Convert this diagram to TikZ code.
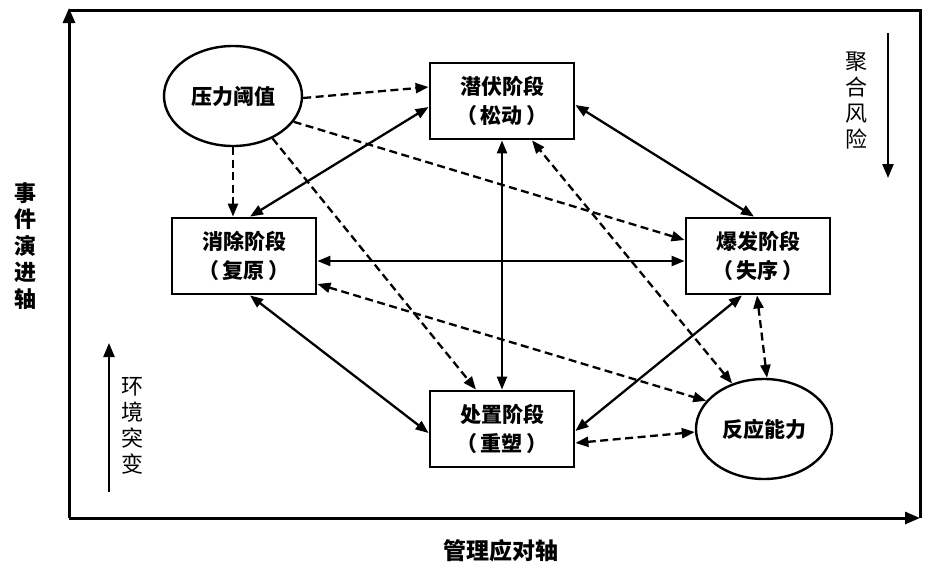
\documentclass[tikz,border=0pt]{standalone}
\usepackage{fontspec}
\newfontfamily\cjk{Noto Sans CJK SC}
\usetikzlibrary{arrows.meta,shapes.geometric}
\newcommand{\pgap}{\hspace{4pt}}
\begin{document}
\begin{tikzpicture}[x=1pt,y=-1pt,
  tip/.tip={Triangle[length=13pt,width=10pt]},
  box/.style={draw,line width=2.8pt,minimum width=144pt,minimum height=76pt,inner sep=0pt,align=center,
    font=\cjk\bfseries\fontsize{21}{29}\selectfont},
  oval/.style={draw,ellipse,line width=2.4pt,minimum width=138pt,minimum height=100pt,inner sep=0pt,
    font=\cjk\bfseries\fontsize{21}{25}\selectfont},
  slink/.style={line width=2.3pt,tip-tip},
  sone/.style={line width=2.3pt,-tip},
  dlink/.style={slink,dash pattern=on 8pt off 4.5pt},
  done/.style={sone,dash pattern=on 8pt off 4.5pt},
  axisline/.style={line width=3pt},
  vlab/.style={align=center,inner sep=0pt},
]
\useasboundingbox (0,0) rectangle (929,570);
% frame
\coordinate (o) at (69,518);
\coordinate (tl) at (69,8);
\coordinate (tstart) at (69,10);
\coordinate (tr) at (920,10);
\coordinate (br) at (920,518);
\draw[axisline] (tstart) -- (tr) -- (br);
\draw[axisline,-{Triangle[length=15pt,width=12pt]}] (o) -- (tl);
\draw[axisline,-{Triangle[length=15pt,width=12pt]}] (o) -- (br);
% nodes
\node[oval] (yl) at (233,96) {压力阈值};
\node[box] (qf) at (502,101) {潜伏阶段\\（\pgap 松动\pgap ）};
\node[box] (xc) at (244,256) {消除阶段\\（\pgap 复原\pgap ）};
\node[box] (bf) at (758,256) {爆发阶段\\（\pgap 失序\pgap ）};
\node[box] (cz) at (502,429) {处置阶段\\（\pgap 重塑\pgap ）};
\node[oval,minimum width=136pt] (fy) at (764,429) {反应能力};
% side labels
\node[vlab,font=\cjk\bfseries\fontsize{22}{26.5}\selectfont] (sj) at (25,246) {事\\件\\演\\进\\轴};
\node[vlab,font=\cjk\fontsize{22}{26}\selectfont] (jh) at (856,101) {聚\\合\\风\\险};
\node[vlab,font=\cjk\fontsize{22}{26}\selectfont] (hj) at (132,426) {环\\境\\突\\变};
\node[inner sep=0pt,font=\cjk\bfseries\fontsize{23}{26}\selectfont] (gl) at (501,551) {管理应对轴};
\coordinate (ja) at (888,33);
\coordinate (jb) at (888,178);
\draw[line width=2.3pt,-{Triangle[length=14pt,width=11pt]}] (ja) -- (jb);
\coordinate (ha) at (109,492);
\coordinate (hb) at (109,343);
\draw[line width=2.3pt,-{Triangle[length=14pt,width=11pt]}] (ha) -- (hb);
% dashed, one-way from 压力阈值
\draw[done] ([yshift=-2pt]yl.east) -- ([yshift=14pt]qf.west);
\draw[done] (yl.-23) -- ([yshift=16pt]bf.west);
\draw[done] (yl.south) -- (yl.south |- xc.north);
\draw[done] (yl.-47) -- ([xshift=-26pt]cz.north);
% dashed, two-way
\draw[dlink] (fy.125) -- ([xshift=30pt]qf.south);
\draw[dlink] ([xshift=-1pt]bf.south) -- ([xshift=3pt]fy.north);
\draw[dlink] ([yshift=-28pt]xc.east) -- (fy.154);
\draw[dlink] ([yshift=-14pt]cz.east) -- ([yshift=-3pt]fy.west);
% solid, two-way
\draw[slink] ([xshift=6pt]xc.north) -- ([yshift=-6pt]qf.west);
\draw[slink] ([yshift=-4pt]qf.east) -- ([xshift=-4pt]bf.north);
\draw[slink] (qf.south) -- (cz.north);
\draw[slink] ([yshift=-5pt]xc.east) -- ([yshift=-5pt]bf.west);
\draw[slink] ([xshift=6pt]xc.south) -- ([yshift=-4pt]cz.west);
\draw[slink] ([xshift=-16pt]bf.south) -- ([yshift=-2pt]cz.east);
\end{tikzpicture}
\end{document}
